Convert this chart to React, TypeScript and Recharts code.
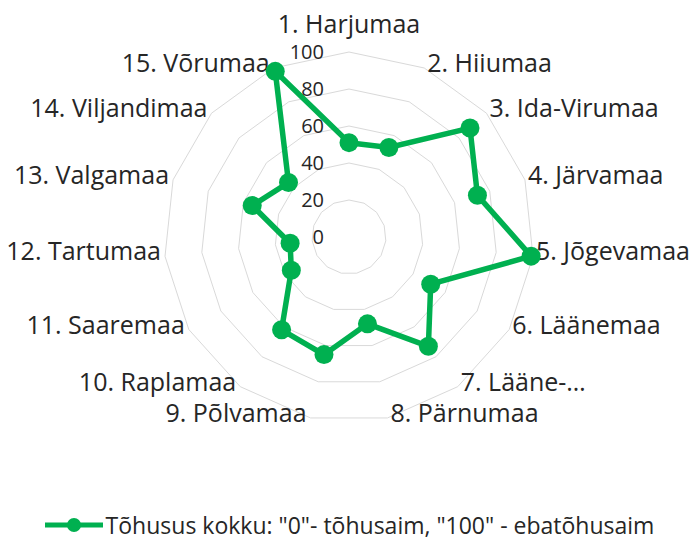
import React from "react";
import {
  RadarChart,
  Radar,
  PolarGrid,
  PolarAngleAxis,
  PolarRadiusAxis,
  Legend,
} from "recharts";

const counties = [
  "1. Harjumaa",
  "2. Hiiumaa",
  "3. Ida-Virumaa",
  "4. Järvamaa",
  "5. Jõgevamaa",
  "6. Läänemaa",
  "7. Lääne-…",
  "8. Pärnumaa",
  "9. Põlvamaa",
  "10. Raplamaa",
  "11. Saaremaa",
  "12. Tartumaa",
  "13. Valgamaa",
  "14. Viljandimaa",
  "15. Võrumaa",
];

const efficiency = [51, 53, 88, 73, 99, 51, 73, 48, 65, 62, 36, 32, 55, 44, 98];

const radiusTicks = [0, 20, 40, 60, 80, 100];

const seriesName = 'Tõhusus kokku: "0"- tõhusaim, "100" - ebatõhusaim';

const data = counties.map((name, i) => ({ name, value: efficiency[i] }));

const GREEN = "#00B050";
const TEXT = "#262626";
const FONT = "'Open Sans', 'Noto Sans', sans-serif";
const CX = 349;
const CY = 237;
const R = 185;

// Category labels sit just outside the outer ring vertex, Excel style
function AngleTick(props: any) {
  const cx = props.cx ?? CX;
  const cy = props.cy ?? CY;
  const r = props.radius ?? R;
  const a = (props.payload.coordinate * Math.PI) / 180;
  const vx = cx + Math.cos(-a) * r;
  const vy = cy + Math.sin(-a) * r;
  const dx = vx - cx;
  let anchor: "start" | "middle" | "end" = "middle";
  let x = vx;
  let y = vy - 5;
  if (Math.abs(dx) < 1) {
    y = vy - 28;
  } else if (dx > 0) {
    anchor = "start";
    x = vx + 3;
  } else {
    anchor = "end";
    x = vx - 4;
  }
  return (
    <text
      x={x}
      y={y}
      dy="0.36em"
      textAnchor={anchor}
      fill={TEXT}
      fontSize={25}
      fontFamily={FONT}
    >
      {props.payload.value}
    </text>
  );
}

function RadiusTick(props: any) {
  return (
    <text
      x={props.x - 25}
      y={props.y}
      dy="0.36em"
      textAnchor="end"
      fill={TEXT}
      fontSize={20}
      fontFamily={FONT}
    >
      {props.payload.value}
    </text>
  );
}

function SeriesDot(props: any) {
  return <circle cx={props.cx} cy={props.cy} r={9.5} fill={GREEN} />;
}

function LegendContent() {
  return (
    <div
      style={{
        display: "flex",
        alignItems: "center",
        justifyContent: "center",
        fontFamily: FONT,
        fontSize: 23,
        color: TEXT,
      }}
    >
      <svg width={60} height={20} style={{ marginRight: 2 }}>
        <line x1={1} y1={10} x2={59} y2={10} stroke={GREEN} strokeWidth={5} />
        <circle cx={30} cy={10} r={7} fill={GREEN} />
      </svg>
      <span>{seriesName}</span>
    </div>
  );
}

export default function App() {
  return (
    <div style={{ width: 698, height: 541, background: "#fff" }}>
      <style>{`body{margin:0}`}</style>
      <RadarChart
        width={698}
        height={541}
        data={data}
        cx={CX}
        cy={CY}
        outerRadius={R}
        margin={{ top: 0, right: 0, bottom: 0, left: 0 }}
      >
        <PolarGrid gridType="polygon" radialLines={false} stroke="#d9d9d9" />
        <PolarAngleAxis
          dataKey="name"
          tick={<AngleTick />}
          tickLine={false}
          axisLine={false}
        />
        <PolarRadiusAxis
          angle={90}
          domain={[0, 100]}
          ticks={radiusTicks}
          tick={<RadiusTick />}
          axisLine={false}
          tickLine={false}
        />
        <Radar
          name={seriesName}
          dataKey="value"
          stroke={GREEN}
          strokeWidth={5.5}
          fill="none"
          fillOpacity={0}
          dot={(p: any) => <SeriesDot key={`dot-${p.index}`} {...p} />}
          isAnimationActive={false}
        />
        <Legend
          content={<LegendContent />}
          wrapperStyle={{ position: "absolute", top: 509, left: 0, width: 698 }}
        />
      </RadarChart>
    </div>
  );
}
